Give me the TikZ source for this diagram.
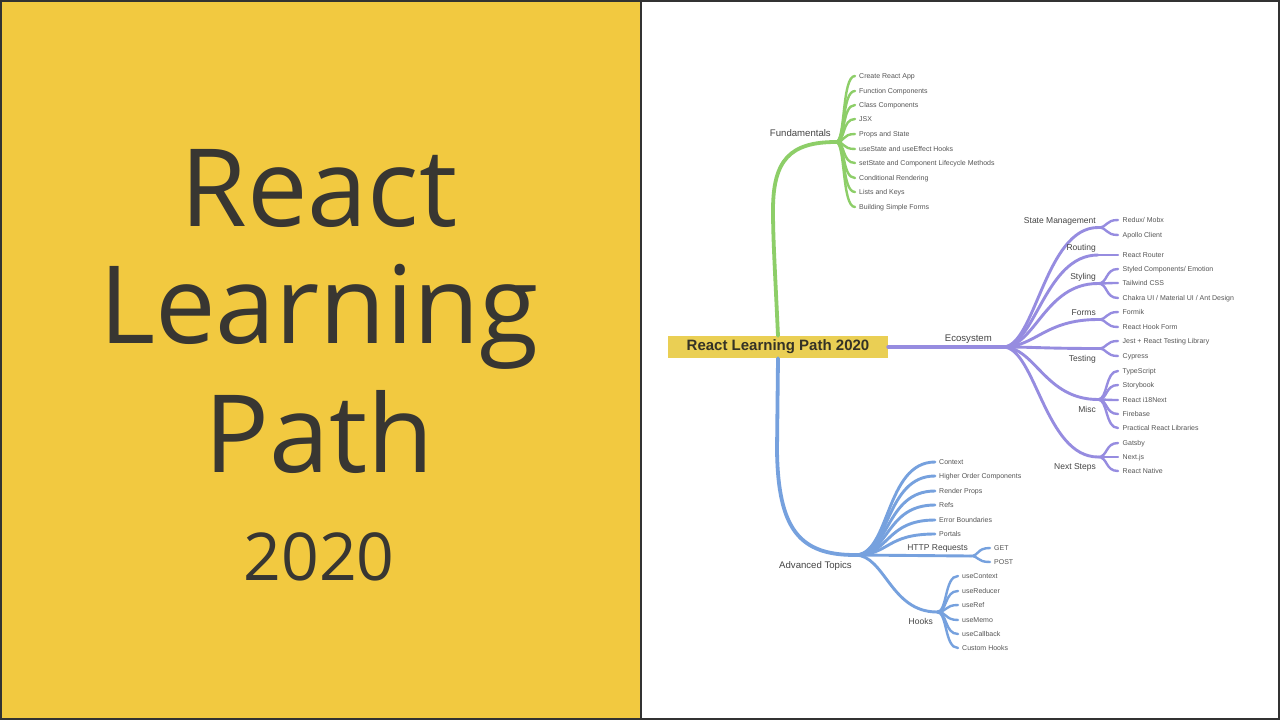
\documentclass[tikz,border=0pt]{standalone}
\usepackage{fontspec}
\setmainfont{Liberation Sans}
\newfontfamily\titlefont{Open Sans}
\usetikzlibrary{calc}
\definecolor{panelyellow}{RGB}{242,201,64}
\definecolor{rootyellow}{RGB}{234,207,84}
\definecolor{titlegray}{RGB}{56,54,50}
\definecolor{mmgreen}{RGB}{141,206,104}
\definecolor{mmpurple}{RGB}{150,140,224}
\definecolor{mmblue}{RGB}{118,161,222}
\definecolor{labelgray}{RGB}{68,68,68}
\definecolor{leafgray}{RGB}{85,85,85}
\definecolor{framegray}{RGB}{50,50,50}
\tikzset{
 bz/.style 2 args={to path={let \p1=(\tikztostart),\p2=(\tikztotarget) in .. controls ({\x1+#1*(\x2-\x1)},\y1) and ({\x1+#2*(\x2-\x1)},\y2) .. (\tikztotarget) \tikztonodes}},
 titletext/.style={font=\titlefont\fontsize{108}{108}\selectfont, text=titlegray, anchor=base, inner sep=0pt},
 yeartext/.style={font=\titlefont\fontsize{66}{66}\selectfont, text=titlegray, anchor=base, inner sep=0pt},
 leaf/.style={font=\fontsize{7}{8}\selectfont, text=leafgray, anchor=west, inner xsep=4pt, inner ysep=0pt, text height=5.2pt, text depth=1pt},
 mainlabel/.style={font=\fontsize{9.6}{11}\selectfont, text=labelgray, anchor=base east, inner sep=0pt},
 sublabel/.style={font=\fontsize{8.5}{10}\selectfont, text=labelgray, anchor=base east, inner sep=0pt},
 rootbox/.style={fill=rootyellow, minimum width=220pt, minimum height=22pt, inner sep=0pt, font=\bfseries\fontsize{15}{16}\selectfont, text={rgb,255:red,52;green,50;blue,38}},
 trunk/.style={line width=3.8pt, line cap=round},
 branch/.style={line width=2.9pt, line cap=round},
 twig/.style={line width=2.4pt, line cap=round},
}
\begin{document}
\begin{tikzpicture}[x=1pt,y=-1pt]
\useasboundingbox (0,0) rectangle (1280,720);
\fill[white] (0,0) rectangle (1280,720);
\fill[panelyellow] (0,0) rectangle (641,720);
\draw[framegray, line width=2pt] (1,1) rectangle (1279,719);
\draw[framegray, line width=1.5pt] (641,0) -- (641,720);

% title
\node[titletext] (t1) at (319,226) {React};
\node[titletext] (t2) at (319,343) {Learning};
\node[titletext] (t3) at (319,472) {Path};
\node[yeartext] (t4) at (319,580) {2020};

% root
\node[rootbox] (root) at (778,347) {React Learning Path 2020};

% junctions
\coordinate (jF) at (836,142);
\coordinate (jE) at (1003,347);
\coordinate (jA) at (855,555);
\coordinate (jSM) at (1098,227.5);
\coordinate (jRo) at (1098,255);
\coordinate (jSt) at (1098,283.5);
\coordinate (jFo) at (1098,319.5);
\coordinate (jTe) at (1098,348.5);
\coordinate (jMi) at (1098,399.5);
\coordinate (jNS) at (1098,457);
\coordinate (jH) at (970,556);
\coordinate (jHk) at (937,612);

% trunks
\draw[trunk, mmgreen] (root.north) .. controls (775,270) and (773,240) .. (773,210) .. controls (773,160) and (790,142) .. (jF);
\draw[trunk, mmpurple] (root.east) -- (jE);
\draw[trunk, mmblue] (root.south) -- (777,450) .. controls (778,530) and (800,555) .. (jA);

% main labels
\node[mainlabel] (lF) at (831,136.5) {Fundamentals};
\node[mainlabel] (lE) at (992,341.5) {Ecosystem};
\node[mainlabel] (lA) at (852,568.5) {Advanced Topics};

% Fundamentals leaves
\foreach \yy/\tt [count=\i] in {76/Create React App, 91/Function Components, 105/Class Components, 119/JSX, 134/Props and State, 149/useState and useEffect Hooks, 163/setState and Component Lifecycle Methods, 178/Conditional Rendering, 192/Lists and Keys, 207/Building Simple Forms}{
  \node[leaf] (f\i) at (855,\yy) {\tt};
  \draw[twig, mmgreen] (jF) to[bz={0.5}{0.3}] (f\i.west);
}

% Ecosystem sub-branches
\foreach \j in {jSM,jRo,jSt,jFo,jTe,jMi,jNS}{
  \draw[branch, mmpurple] (jE) to[bz={0.34}{0.44}] (\j);
}
\node[sublabel] (lSM) at (1096,223) {State Management};
\node[sublabel] (lRo) at (1096,250) {Routing};
\node[sublabel] (lSt) at (1096,279) {Styling};
\node[sublabel] (lFo) at (1096,315) {Forms};
\node[sublabel] (lTe) at (1096,361) {Testing};
\node[sublabel] (lMi) at (1096,412) {Misc};
\node[sublabel] (lNS) at (1096,469) {Next Steps};

\foreach \jj/\yy/\tt [count=\i] in {jSM/220/{Redux/ Mobx}, jSM/235/Apollo Client, jRo/255/React Router, jSt/269/{Styled Components/ Emotion}, jSt/283/Tailwind CSS, jSt/298/{Chakra UI / Material UI / Ant Design}, jFo/312/Formik, jFo/327/React Hook Form, jTe/341/Jest + React Testing Library, jTe/356/Cypress, jMi/371/TypeScript, jMi/385/Storybook, jMi/400/React i18Next, jMi/414/Firebase, jMi/428/Practical React Libraries, jNS/443/Gatsby, jNS/457/Next.js, jNS/471/React Native}{
  \node[leaf, inner xsep=4.5pt] (e\i) at (1118,\yy) {\tt};
  \draw[twig, mmpurple] (\jj) to[bz={0.5}{0.35}] (e\i.west);
}

% Advanced
\foreach \yy/\tt [count=\i] in {462/Context, 476/Higher Order Components, 491/Render Props, 505/Refs, 520/Error Boundaries, 534/Portals}{
  \node[leaf] (a\i) at (935,\yy) {\tt};
  \draw[branch, mmblue] (jA) to[bz={0.44}{0.375}] (a\i.west);
}
\draw[branch, mmblue] (jA) -- (jH);
\draw[branch, mmblue] (jA) to[bz={0.366}{0.43}] (jHk);
\node[sublabel] (lH) at (968,550) {HTTP Requests};
\node[sublabel] (lHk) at (933,624) {Hooks};

\node[leaf] (g1) at (990,548) {GET};
\node[leaf] (g2) at (990,562) {POST};
\draw[twig, mmblue] (jH) to[bz={0.5}{0.3}] (g1.west);
\draw[twig, mmblue] (jH) to[bz={0.5}{0.3}] (g2.west);

\foreach \yy/\tt [count=\i] in {576/useContext, 591/useReducer, 605/useRef, 620/useMemo, 634/useCallback, 648/Custom Hooks}{
  \node[leaf] (h\i) at (958,\yy) {\tt};
  \draw[twig, mmblue] (jHk) to[bz={0.5}{0.35}] (h\i.west);
}
\end{tikzpicture}
\end{document}
